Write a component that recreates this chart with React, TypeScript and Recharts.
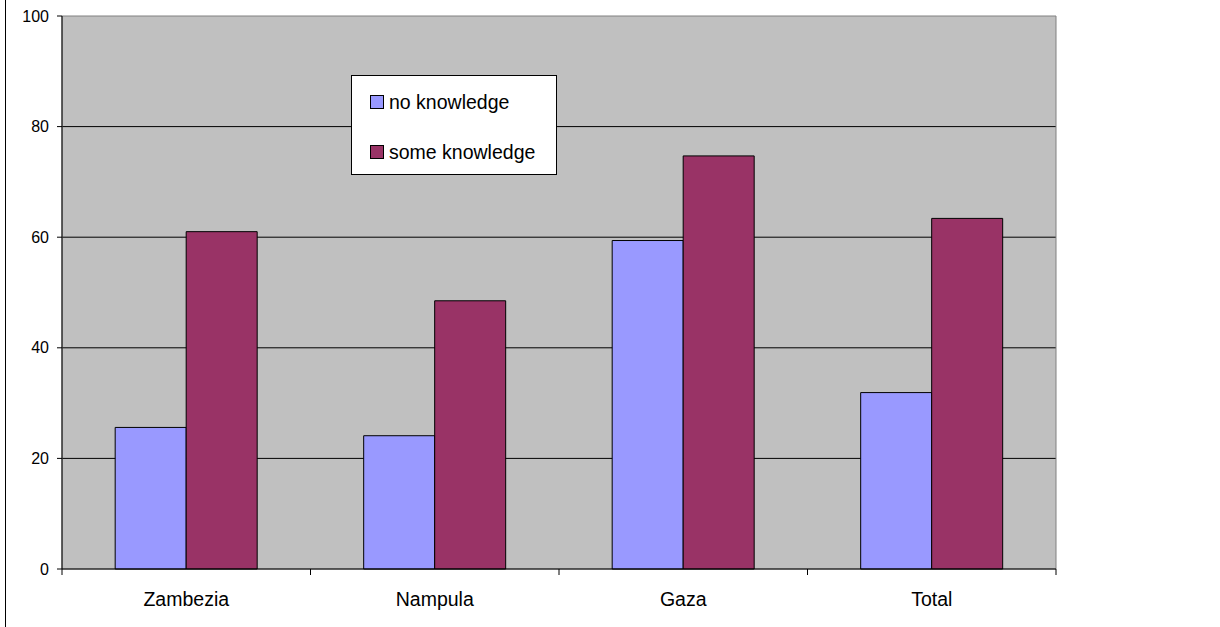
import React from 'react';
import {
  BarChart,
  Bar,
  XAxis,
  YAxis,
  CartesianGrid,
  Legend,
  ReferenceArea,
} from 'recharts';

// Provinces and overall total
const categories = ['Zambezia', 'Nampula', 'Gaza', 'Total'];
// Percentage of respondents per knowledge group
const noKnowledge = [25.6, 24.1, 59.4, 31.9];
const someKnowledge = [61.0, 48.5, 74.7, 63.4];
const yTicks = [0, 20, 40, 60, 80, 100];

const seriesInfo = [
  { key: 'noKnowledge', name: 'no knowledge', color: '#9999FF' },
  { key: 'someKnowledge', name: 'some knowledge', color: '#993366' },
];

const data = categories.map((name, i) => ({
  name,
  noKnowledge: noKnowledge[i],
  someKnowledge: someKnowledge[i],
}));

const WIDTH = 1220;
const HEIGHT = 627;
const MARGIN = { top: 16, right: 164, bottom: 0, left: 0 };
const Y_AXIS_WIDTH = 62;
const X_AXIS_HEIGHT = 58;
const FONT = '"Liberation Sans", Arial, sans-serif';
const BAND = (WIDTH - MARGIN.left - MARGIN.right - Y_AXIS_WIDTH) / categories.length;

// Category label with tick marks on the band boundaries
const CategoryTick = (props: any) => {
  const { x, y, payload, index } = props;
  const left = x - BAND / 2;
  const right = x + BAND / 2;
  return (
    <g>
      <line x1={left} y1={y} x2={left} y2={y + 6} stroke="#000" strokeWidth={1} />
      {index === categories.length - 1 && (
        <line x1={right} y1={y} x2={right} y2={y + 6} stroke="#000" strokeWidth={1} />
      )}
      <text
        x={x}
        y={y + 37}
        textAnchor="middle"
        fill="#000"
        fontSize={19.5}
        fontFamily={FONT}
      >
        {payload.value}
      </text>
    </g>
  );
};

const LegendBox = () => (
  <div
    style={{
      position: 'relative',
      width: 206,
      height: 100,
      boxSizing: 'border-box',
      border: '1px solid #000',
      background: '#fff',
      fontFamily: FONT,
      fontSize: 19.5,
      color: '#000',
    }}
  >
    {seriesInfo.map((s, i) => (
      <div
        key={s.key}
        style={{
          position: 'absolute',
          left: 18,
          top: 15 + i * 50,
          height: 22,
          display: 'flex',
          alignItems: 'center',
          whiteSpace: 'nowrap',
        }}
      >
        <span
          style={{
            display: 'inline-block',
            width: 12,
            height: 12,
            border: '1px solid #000',
            background: s.color,
            marginRight: 5,
          }}
        />
        <span>{s.name}</span>
      </div>
    ))}
  </div>
);

export default function App() {
  return (
    <div
      style={{
        position: 'absolute',
        left: 0,
        top: 0,
        width: WIDTH,
        height: HEIGHT,
        background: '#fff',
      }}
    >
      <div
        style={{
          position: 'absolute',
          left: 5,
          top: 0,
          width: 1,
          height: HEIGHT,
          background: '#000',
        }}
      />
      <BarChart
        width={WIDTH}
        height={HEIGHT}
        data={data}
        margin={MARGIN}
        barCategoryGap="21.4%"
        barGap={0}
      >
        <CartesianGrid
          vertical={false}
          horizontalValues={[20, 40, 60, 80]}
          stroke="#000"
          strokeWidth={1}
          fill="#C0C0C0"
          fillOpacity={1}
        />
        <ReferenceArea
          y1={0}
          y2={100}
          fill="none"
          stroke="#808080"
          strokeWidth={1}
          isFront={false}
        />
        <XAxis
          dataKey="name"
          height={X_AXIS_HEIGHT}
          axisLine={{ stroke: '#000', strokeWidth: 1 }}
          tickLine={false}
          tickSize={0}
          tickMargin={0}
          interval={0}
          tick={<CategoryTick />}
        />
        <YAxis
          width={Y_AXIS_WIDTH}
          domain={[0, 100]}
          ticks={yTicks}
          interval={0}
          axisLine={{ stroke: '#000', strokeWidth: 1 }}
          tickLine={{ stroke: '#000', strokeWidth: 1 }}
          tickSize={5}
          tickMargin={8}
          tick={{ fill: '#000', fontSize: 16, fontFamily: FONT }}
        />
        <Legend
          layout="vertical"
          align="center"
          verticalAlign="middle"
          content={<LegendBox />}
          wrapperStyle={{ left: 351, top: 75, width: 206, height: 100 }}
        />
        {seriesInfo.map((s) => (
          <Bar
            key={s.key}
            dataKey={s.key}
            name={s.name}
            fill={s.color}
            stroke="#000"
            strokeWidth={1}
            isAnimationActive={false}
          />
        ))}
      </BarChart>
    </div>
  );
}
